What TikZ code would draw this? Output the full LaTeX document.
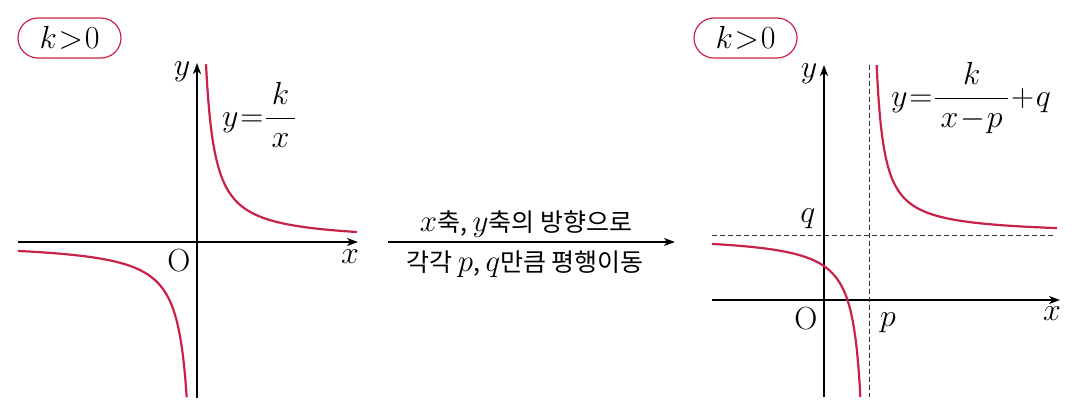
\RequirePackage{fix-cm}
\documentclass[tikz,border=0pt]{standalone}
\usepackage{fontspec}
\newfontfamily\kr{Noto Sans CJK KR}
\usetikzlibrary{arrows.meta,shapes.misc}
\definecolor{crim}{RGB}{200,34,72}
\newcommand{\tightmath}{\thickmuskip=1mu\medmuskip=1mu}
\newcommand{\mvar}[1]{{\fontsize{31}{31}\selectfont$#1$}}
\begin{document}
\begin{tikzpicture}[x=1pt,y=-1pt,font=\fontsize{32}{38}\selectfont\tightmath,
  axis/.style={line width=1.4pt,-{Stealth[length=11pt,width=8pt,inset=3pt]}},
  marrow/.style={line width=1.2pt,-{Stealth[length=11pt,width=8pt,inset=3pt]}},
  curve/.style={crim,line width=2.2pt},
  asym/.style={line width=0.8pt,dash pattern=on 5pt off 3pt,black!80},
  badge/.style={rounded rectangle,draw=crim,line width=1.2pt,minimum width=103pt,minimum height=40pt,inner sep=0pt},
  lbl/.style={inner sep=0pt},
  krtext/.style={font=\kr\fontsize{25}{31}\selectfont,inner sep=0pt,anchor=base}]
\useasboundingbox (0,0) rectangle (1086,416);
% ---------- left graph ----------
\node[badge] (b1) at (69.5,38) {$k>0$};
\coordinate (Lxs) at (18,242); \coordinate (Lxe) at (358,242);
\coordinate (Lys) at (197,398); \coordinate (Lye) at (197,63);
\draw[axis] (Lxs) -- (Lxe);
\draw[axis] (Lys) -- (Lye);
\node[lbl] (Lx) at (350,257) {$x$};
\node[lbl] (Ly) at (182,72) {$y$};
\node[lbl] (LO) at (179,261) {O};
\draw[curve] plot[domain=9:160,samples=160,smooth] ({197+\x},{242-1600/\x});
\draw[curve] plot[domain=-179:-10.3,samples=160,smooth] ({197+\x},{242-1600/\x});
\node[lbl,anchor=base] (Leq) at (259,126) {$\displaystyle y=\frac{\,k\,}{\,x\,}$};
% ---------- middle arrow ----------
\coordinate (ms) at (388,242); \coordinate (me) at (675,242);
\draw[marrow] (ms) -- (me);
\node[krtext] (t1) at (526,231) {\mvar{x}축, \mvar{y}축의 방향으로};
\node[krtext] (t2) at (525,271) {각각 \mvar{p}, \mvar{q}만큼 평행이동};
% ---------- right graph ----------
\node[badge] (b2) at (745.5,38) {$k>0$};
\coordinate (Rxs) at (712,300); \coordinate (Rxe) at (1060,300);
\coordinate (Rys) at (824,397); \coordinate (Rye) at (824,65);
\draw[axis] (Rxs) -- (Rxe);
\draw[axis] (Rys) -- (Rye);
\coordinate (Vs) at (869,65); \coordinate (Ve) at (869,397);
\coordinate (Hs) at (712,235); \coordinate (He) at (1055,235);
\draw[asym] (Vs) -- (Ve);
\draw[asym] (Hs) -- (He);
\node[lbl] (Rx) at (1052,314) {$x$};
\node[lbl] (Ry) at (809,74) {$y$};
\node[lbl] (RO) at (806,319) {O};
\node[lbl] (Rp) at (888,323) {$p$};
\node[lbl] (Rq) at (808,219) {$q$};
\draw[curve] plot[domain=7.65:188,samples=160,smooth] ({869+\x},{235-1300/\x});
\draw[curve] plot[domain=-157:-8.64,samples=160,smooth] ({869+\x},{235-1400/\x});
\node[lbl,anchor=base] (Req) at (971,106) {$\displaystyle y=\frac{\,k\,}{\,x-p\,}+q$};
\end{tikzpicture}
\end{document}
